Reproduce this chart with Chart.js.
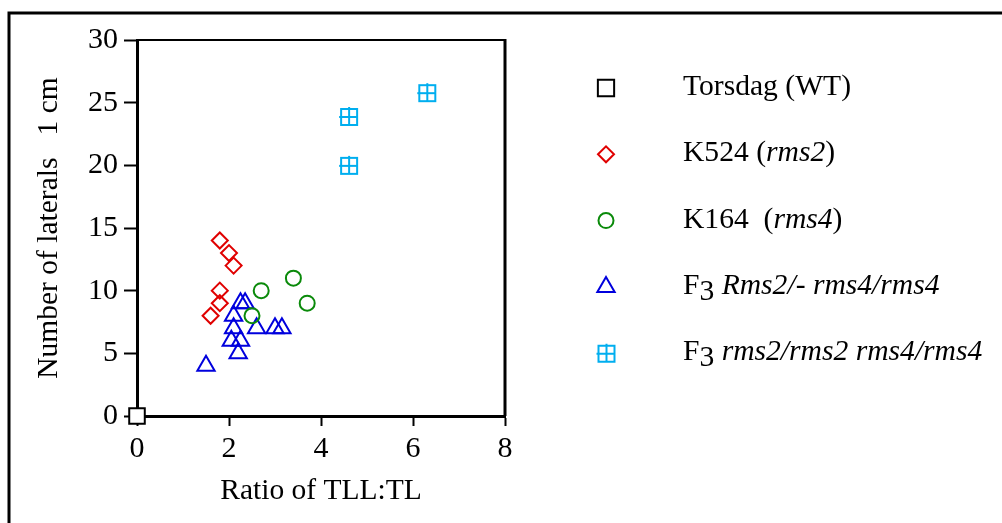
<!DOCTYPE html>
<html>
<head>
<meta charset="utf-8">
<script src="https://cdn.jsdelivr.net/npm/chart.js@4.4.1/dist/chart.umd.min.js"></script>
<style>
  html, body { margin: 0; padding: 0; background: #ffffff; }
  #grafLaterales { display: block; }
</style>
</head>
<body>
<canvas id="grafLaterales" width="1002" height="523"></canvas>
<script>
// valores
const torsdagX = [0];
const torsdagY = [0];

const k524X = [1.8, 2.0, 2.1, 1.8, 1.8, 1.6];
const k524Y = [14, 13, 12, 10, 9, 8];

const k164X = [2.7, 3.4, 3.7, 2.5];
const k164Y = [10, 11, 9, 8];

const f3RmsX = [1.5, 2.2, 2.05, 2.25, 2.1, 2.6, 3.0, 3.15, 2.1, 2.25, 2.35];
const f3RmsY = [4, 5, 6, 6, 7, 7, 7, 7, 8, 9, 9];

const f3rmsX = [4.6, 4.6, 6.3];
const f3rmsY = [23.9, 20, 25.8];

const xTicks = [0, 2, 4, 6, 8];
const yTicks = [0, 5, 10, 15, 20, 25, 30];

// texto de la leyenda (i = cursiva, sub = el 3 de F3)
const legendParts = [
    [{ t: 'Torsdag (WT)' }],
    [{ t: 'K524 (' }, { t: 'rms2', i: true }, { t: ')' }],
    [{ t: 'K164  (' }, { t: 'rms4', i: true }, { t: ')' }],
    [{ t: 'F' }, { t: '3', sub: true }, { t: ' ' }, { t: 'Rms2/- rms4/rms4', i: true }],
    [{ t: 'F' }, { t: '3', sub: true }, { t: ' ' }, { t: 'rms2/rms2 rms4/rms4', i: true }]
];

const serif = '"Liberation Serif", "DejaVu Serif", serif';

function puntos(xs, ys) {
    return xs.map((x, i) => ({ x: x, y: ys[i] }));
}

// cuadro con cruz para el F3 rms2/rms2
function cuadroCruz(color) {
    const c = document.createElement('canvas');
    c.width = 21;
    c.height = 21;
    const g = c.getContext('2d');
    g.strokeStyle = color;
    g.lineWidth = 2;
    g.strokeRect(3, 3, 16, 16);
    g.beginPath();
    g.moveTo(11, 1);
    g.lineTo(11, 19);
    g.moveTo(1, 11);
    g.lineTo(19, 11);
    g.stroke();
    return c;
}

const data = {
    datasets: [
        {
            label: 'Torsdag (WT)',
            data: puntos(torsdagX, torsdagY),
            pointStyle: 'rect',
            pointRadius: 11,
            borderColor: '#000000',
            backgroundColor: '#ffffff',
            borderWidth: 2
        },
        {
            label: 'K524 (rms2)',
            data: puntos(k524X, k524Y),
            pointStyle: 'rectRot',
            pointRadius: 8,
            borderColor: '#e00000',
            backgroundColor: 'rgba(0,0,0,0)',
            borderWidth: 2
        },
        {
            label: 'K164 (rms4)',
            data: puntos(k164X, k164Y),
            pointStyle: 'circle',
            pointRadius: 7.5,
            borderColor: '#0a8a0a',
            backgroundColor: 'rgba(0,0,0,0)',
            borderWidth: 2
        },
        {
            label: 'F3 Rms2/- rms4/rms4',
            data: puntos(f3RmsX, f3RmsY),
            pointStyle: 'triangle',
            pointRadius: 10,
            borderColor: '#0000dd',
            backgroundColor: 'rgba(0,0,0,0)',
            borderWidth: 2
        },
        {
            label: 'F3 rms2/rms2 rms4/rms4',
            data: puntos(f3rmsX, f3rmsY),
            pointStyle: cuadroCruz('#00aeef'),
            pointRadius: 9,
            borderColor: '#00aeef',
            backgroundColor: 'rgba(0,0,0,0)',
            borderWidth: 2
        }
    ]
};

// marco exterior y lineas superior/derecha del grafico
const marco = {
    id: 'marco',
    afterDraw(chart) {
        const ctx = chart.ctx;
        const a = chart.chartArea;
        ctx.save();
        ctx.strokeStyle = '#000000';
        ctx.lineWidth = 3;
        ctx.beginPath();
        ctx.moveTo(9, 523);
        ctx.lineTo(9, 13);
        ctx.lineTo(1002, 13);
        ctx.stroke();

        ctx.lineWidth = 2;
        ctx.beginPath();
        ctx.moveTo(a.left, a.top);
        ctx.lineTo(a.right, a.top);
        ctx.stroke();
        ctx.lineWidth = 3;
        ctx.beginPath();
        ctx.moveTo(a.right, a.top - 1);
        ctx.lineTo(a.right, a.bottom);
        ctx.stroke();
        ctx.restore();
    }
};

// leyenda a la derecha con cursivas
const leyenda = {
    id: 'leyenda',
    afterDraw(chart) {
        const ctx = chart.ctx;
        const x0 = 606;
        const tx = 683;
        const y0 = 95;
        const gap = 66.3;
        chart.data.datasets.forEach((ds, i) => {
            const y = y0 + i * gap;
            ctx.save();
            ctx.strokeStyle = ds.borderColor;
            ctx.fillStyle = ds.backgroundColor;
            ctx.lineWidth = ds.borderWidth;
            const r = ds.pointStyle === 'rect' ? 11.5 : ds.pointRadius;
            Chart.helpers.drawPoint(ctx, {
                pointStyle: ds.pointStyle,
                radius: r,
                borderWidth: ds.borderWidth,
                rotation: 0
            }, x0, y - 7);
            ctx.restore();

            ctx.save();
            ctx.fillStyle = '#000000';
            ctx.textBaseline = 'alphabetic';
            ctx.textAlign = 'left';
            let x = tx;
            legendParts[i].forEach(p => {
                ctx.font = (p.i ? 'italic ' : '') + '29.6px ' + serif;
                ctx.fillText(p.t, x, y + (p.sub ? 6 : 0));
                x += ctx.measureText(p.t).width;
            });
            ctx.restore();
        });
    }
};

const config = {
    type: 'scatter',
    data: data,
    options: {
        responsive: false,
        animation: false,
        clip: false,
        layout: {
            padding: { left: 0, top: 40, right: 497, bottom: 0 }
        },
        plugins: {
            legend: { display: false },
            tooltip: { enabled: false }
        },
        scales: {
            x: {
                type: 'linear',
                min: 0,
                max: 8,
                afterFit: function (scale) { scale.height = 107; },
                afterBuildTicks: function (scale) {
                    scale.ticks = xTicks.map(v => ({ value: v }));
                },
                border: { display: true, color: '#000000', width: 3 },
                grid: {
                    drawOnChartArea: false,
                    drawTicks: true,
                    tickLength: 10,
                    tickWidth: 2,
                    tickColor: '#000000'
                },
                ticks: {
                    color: '#000000',
                    padding: 5,
                    maxRotation: 0,
                    font: { family: serif, size: 30 }
                },
                title: {
                    display: true,
                    text: 'Ratio of TLL:TL',
                    color: '#000000',
                    padding: { top: 0, bottom: 14 },
                    font: { family: serif, size: 29.5 }
                }
            },
            y: {
                type: 'linear',
                min: 0,
                max: 30,
                afterFit: function (scale) { scale.width = 137; },
                afterBuildTicks: function (scale) {
                    scale.ticks = yTicks.map(v => ({ value: v }));
                },
                border: { display: true, color: '#000000', width: 3 },
                grid: {
                    drawOnChartArea: false,
                    drawTicks: true,
                    tickLength: 13,
                    tickWidth: 2,
                    tickColor: '#000000'
                },
                ticks: {
                    color: '#000000',
                    padding: 6,
                    font: { family: serif, size: 30 }
                },
                title: {
                    display: true,
                    text: 'Number of laterals   1 cm',
                    color: '#000000',
                    padding: { top: 32, bottom: 0 },
                    font: { family: serif, size: 29.5 }
                }
            }
        }
    },
    plugins: [marco, leyenda]
};

const ctx = document.getElementById('grafLaterales').getContext('2d');

if (window.graficaLaterales) {
    window.graficaLaterales.destroy();
}

window.graficaLaterales = new Chart(ctx, config);
</script>
</body>
</html>
